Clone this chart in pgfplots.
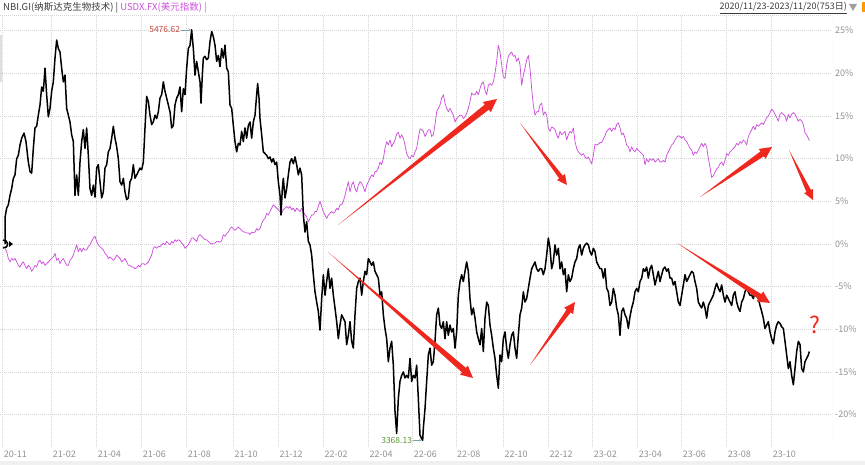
\documentclass[border=0pt]{standalone}
\usepackage{pgfplots}
\pgfplotsset{compat=1.18}
\usepackage{fontspec}
\setmainfont{Noto Sans CJK SC}
\usetikzlibrary{calc,arrows.meta}

\definecolor{usdx}{RGB}{205,80,220}
\definecolor{gridc}{RGB}{212,212,212}
\definecolor{tickc}{RGB}{145,145,145}
\definecolor{titlec}{RGB}{60,60,60}
\definecolor{arrowred}{RGB}{238,40,30}
\definecolor{peakred}{RGB}{200,70,60}
\definecolor{lowgreen}{RGB}{90,150,60}
\definecolor{pointer}{RGB}{120,165,175}

% tapered red arrow: x1 y1 x2 y2 (px from top-left), body half width, head half width
\newcommand{\tarrow}[6]{%
  \pgfmathsetmacro{\dx}{#3-#1}%
  \pgfmathsetmacro{\dy}{#2-#4}%
  \pgfmathsetmacro{\ang}{atan2(\dy,\dx)}%
  \pgfmathsetmacro{\len}{veclen(\dx,\dy)}%
  \pgfmathsetmacro{\hl}{2*#6}%
  \fill[arrowred, shift={({#1pt},{465pt-#2pt})}, rotate=\ang]
    (0,0) -- ({(\len-\hl)*1pt},{-#5*1pt}) -- ({(\len-\hl)*1pt},{-#6*1pt})
    -- ({\len*1pt},0) -- ({(\len-\hl)*1pt},{#6*1pt}) -- ({(\len-\hl)*1pt},{#5*1pt}) -- cycle;
}

\begin{document}
\begin{tikzpicture}
\path[use as bounding box] (0,0) rectangle (865pt,465pt);
\fill[gray!12] (0,0) rectangle (865pt,4pt);
\fill[gray!25] (0,383pt) rectangle (1.5pt,430pt);

\begin{axis}[
    at={(0pt,18pt)}, anchor=south west,
    scale only axis, width=832pt, height=432pt,
    xmin=0, xmax=2496, ymin=-23.79, ymax=26.84,
    axis line style={draw=none},
    tick style={draw=none},
    grid=major,
    grid style={gridc, dash pattern=on 1pt off 1pt, line width=0.5pt},
    xtick={8,155,290,425,560,700,835,970,1105,1238,1368,1510,1645,1778,1913,2045,2180,2315},
    xticklabels={20-11,21-02,21-04,21-06,21-08,21-10,21-12,22-02,22-04,22-06,22-08,22-10,22-12,23-02,23-04,23-06,23-08,23-10},
    xticklabel style={anchor=west, yshift=-7pt, inner sep=1pt, text=tickc, font=\fontsize{9}{10}\selectfont},
    ytick={-20,-15,-10,-5,0,5,10,15,20,25},
    yticklabels={-20\%,-15\%,-10\%,-5\%,0\%,5\%,10\%,15\%,20\%,25\%},
    yticklabel pos=right,
    yticklabel style={anchor=west, xshift=3pt, inner sep=0pt, text=tickc, font=\fontsize{9}{10}\selectfont},
    no marks,
]
\draw[gridc, dash pattern=on 1pt off 1pt, line width=0.5pt] (rel axis cs:0,1) -- (rel axis cs:1,1) -- (rel axis cs:1,0);
\draw[gray!18, line width=0.6pt] (rel axis cs:0,0) -- (rel axis cs:1,0);

% USDX.FX relative change (%)
\addplot[usdx, line width=0.75pt, line join=round] coordinates {
(15,-0.5) (20,-0.9) (25,-1.7) (30,-2.1) (35,-1.7) (40,-1.9) (45,-1.7) (50,-2.1) (55,-2.5) (60,-2.7)
(65,-2.3) (70,-2.1) (75,-2.5) (80,-2.9) (85,-2.5) (90,-2.7) (95,-3.2) (100,-2.9) (105,-2.5) (110,-2.7)
(115,-2.1) (120,-1.9) (125,-2.3) (130,-2.1) (135,-2.5) (140,-2.3) (145,-2.1) (150,-1.9) (155,-1.7) (160,-1.5)
(165,-1.1) (170,-1.9) (175,-1.7) (180,-2.3) (185,-1.9) (190,-1.7) (195,-2.1) (200,-2.5) (205,-2.5) (210,-1.9)
(215,-1.7) (220,-1.3) (225,-0.7) (230,-0.1) (235,-0.9) (240,-0.5) (245,-0.9) (250,-0.5) (255,-0.7) (260,-0.7)
(265,-0.3) (270,-0.1) (275,0.3) (280,0.7) (285,0.9) (290,0.3) (295,-0.1) (300,-0.3) (305,-0.5) (310,-0.7)
(315,-1.1) (320,-1.3) (325,-1.7) (330,-1.5) (335,-1.7) (340,-1.9) (345,-1.7) (350,-1.3) (355,-1.5) (360,-1.7)
(365,-2.1) (370,-1.9) (375,-1.7) (380,-2.1) (385,-2.5) (390,-2.5) (395,-2.7) (400,-2.7) (405,-2.9) (410,-2.8)
(415,-2.5) (420,-2.7) (425,-2.3) (430,-2.3) (435,-2.4) (440,-2.3) (445,-2.1) (450,-1.7) (455,-1.3) (460,-0.5)
(465,-0.3) (470,-0.5) (475,-0.3) (480,-0.3) (485,-0.1) (490,0.1) (495,-0.1) (500,0.3) (505,0.1) (510,-0.1)
(515,0.3) (520,0.1) (525,0.5) (530,0.3) (535,0.5) (540,0.4) (545,0.1) (550,-0.1) (555,-0.5) (560,-0.3)
(565,-0.1) (570,0.3) (575,0.7) (580,0.7) (585,0.5) (590,0.3) (595,0.9) (600,1.1) (605,0.9) (610,0.7)
(615,0.5) (620,0.5) (625,0.3) (630,0.1) (635,0.0) (640,0.1) (645,0.1) (650,0.3) (655,0.3) (660,0.2)
(665,0.4) (670,1.1) (675,0.9) (680,1.2) (685,1.4) (690,1.8) (695,2.0) (700,1.8) (705,1.6) (710,1.8)
(715,2.0) (720,1.8) (725,1.6) (730,1.4) (735,1.4) (740,1.3) (745,1.3) (750,1.1) (755,1.4) (760,1.3)
(765,1.4) (770,1.8) (775,1.6) (780,1.8) (785,2.4) (790,2.8) (795,3.0) (800,3.6) (805,3.4) (810,3.8)
(815,4.2) (820,4.6) (825,4.4) (830,4.2) (835,4.0) (840,3.8) (845,3.6) (850,4.0) (855,4.2) (860,4.4)
(865,4.2) (870,4.4) (875,4.0) (880,4.2) (885,3.8) (890,4.2) (895,4.0) (900,3.8) (905,4.2) (910,3.8)
(915,3.4) (920,3.2) (925,2.6) (930,3.0) (935,3.4) (940,3.4) (945,3.8) (950,3.8) (955,4.4) (960,5.0)
(965,4.4) (970,3.8) (975,3.4) (980,3.0) (985,3.4) (990,3.6) (995,3.8) (1000,3.6) (1005,3.8) (1010,4.2)
(1015,4.0) (1020,4.6) (1025,4.6) (1030,5.0) (1035,5.7) (1040,6.5) (1045,7.3) (1050,6.1) (1055,6.9) (1060,7.3)
(1065,6.5) (1070,6.1) (1075,6.9) (1080,7.3) (1085,7.1) (1090,6.7) (1095,6.1) (1100,6.9) (1105,7.3) (1110,7.7)
(1115,8.1) (1120,7.9) (1125,8.5) (1130,8.5) (1135,8.9) (1140,9.6) (1145,9.3) (1150,10.0) (1155,11.2) (1160,12.0)
(1165,11.6) (1170,12.2) (1175,11.4) (1180,11.8) (1185,12.2) (1190,12.9) (1195,13.1) (1200,12.4) (1205,12.8) (1210,12.4)
(1215,11.6) (1220,10.6) (1225,10.2) (1230,10.0) (1235,10.4) (1240,10.2) (1245,10.8) (1250,11.2) (1255,12.4) (1260,13.5)
(1265,13.4) (1270,13.2) (1275,12.6) (1280,13.0) (1285,13.4) (1290,13.4) (1295,12.6) (1300,12.8) (1305,14.0) (1310,15.5)
(1315,15.9) (1320,16.3) (1325,17.1) (1330,17.5) (1335,16.5) (1340,15.9) (1345,15.5) (1350,15.9) (1355,15.5) (1360,15.1)
(1365,14.3) (1370,14.7) (1375,14.9) (1380,15.1) (1385,15.1) (1390,14.7) (1395,14.9) (1400,15.3) (1405,15.9) (1410,16.7)
(1415,17.7) (1420,17.5) (1425,17.5) (1430,17.9) (1435,17.5) (1440,18.2) (1445,18.8) (1450,19.0) (1455,18.0) (1460,17.5)
(1465,18.6) (1470,18.8) (1475,18.6) (1480,19.0) (1485,20.0) (1490,21.4) (1495,23.3) (1500,22.5) (1505,21.0) (1510,19.6)
(1515,19.4) (1520,21.0) (1525,22.0) (1530,22.3) (1535,22.5) (1540,22.0) (1545,22.1) (1550,21.4) (1555,21.8) (1560,21.0)
(1565,18.6) (1570,19.8) (1575,20.6) (1580,21.6) (1585,22.1) (1590,20.6) (1595,18.2) (1600,16.3) (1605,15.1) (1610,15.5)
(1615,15.5) (1620,16.3) (1625,16.5) (1630,15.1) (1635,15.5) (1640,15.1) (1645,13.6) (1650,13.2) (1655,13.7) (1660,13.6)
(1665,13.4) (1670,12.8) (1675,12.4) (1680,13.2) (1685,12.8) (1690,13.0) (1695,13.2) (1700,12.2) (1705,12.8) (1710,13.2)
(1715,13.0) (1720,13.6) (1725,12.0) (1730,11.2) (1735,10.8) (1740,10.6) (1745,10.4) (1750,10.6) (1755,10.2) (1760,10.0)
(1765,10.2) (1770,9.8) (1775,9.4) (1780,10.4) (1785,11.7) (1790,11.6) (1795,11.7) (1800,11.9) (1805,11.9) (1810,12.3)
(1815,12.7) (1820,13.2) (1825,13.4) (1830,13.6) (1835,13.2) (1840,13.6) (1845,13.4) (1850,14.0) (1855,14.2) (1860,13.6)
(1865,12.8) (1870,13.0) (1875,12.4) (1880,11.6) (1885,11.4) (1890,10.8) (1895,11.4) (1900,11.0) (1905,10.8) (1910,11.2)
(1915,11.0) (1920,10.8) (1925,10.6) (1930,10.4) (1935,9.3) (1940,10.0) (1945,9.6) (1950,10.0) (1955,9.8) (1960,10.0)
(1965,9.6) (1970,9.8) (1975,10.0) (1980,9.6) (1985,9.6) (1990,9.8) (1995,9.6) (2000,10.4) (2005,10.8) (2010,11.2)
(2015,11.6) (2020,11.8) (2025,12.2) (2030,12.5) (2035,12.7) (2040,12.6) (2045,12.4) (2050,12.6) (2055,12.2) (2060,12.0)
(2065,11.6) (2070,11.2) (2075,11.0) (2080,10.4) (2085,10.8) (2090,10.6) (2095,11.0) (2100,11.4) (2105,11.8) (2110,11.4)
(2115,11.8) (2120,11.4) (2125,10.0) (2130,9.0) (2135,7.8) (2140,8.0) (2145,8.4) (2150,8.8) (2155,9.0) (2160,9.4)
(2165,9.6) (2170,9.2) (2175,9.8) (2180,10.6) (2185,10.4) (2190,10.8) (2195,11.0) (2200,11.2) (2205,11.4) (2210,11.8)
(2215,11.6) (2220,12.0) (2225,11.8) (2230,12.2) (2235,12.0) (2240,11.6) (2245,12.6) (2250,13.0) (2255,13.4) (2260,13.8)
(2265,13.4) (2270,14.0) (2275,13.8) (2280,14.0) (2285,14.2) (2290,14.0) (2295,14.4) (2300,14.8) (2305,15.0) (2310,15.4)
(2315,15.8) (2320,15.6) (2325,15.2) (2330,14.8) (2335,14.4) (2340,15.2) (2345,15.4) (2350,15.2) (2355,15.0) (2360,14.4)
(2365,15.2) (2370,14.8) (2375,15.2) (2380,15.4) (2385,15.2) (2390,14.8) (2395,14.4) (2400,14.6) (2405,14.4) (2410,14.0)
(2415,13.0) (2420,12.8) (2425,12.4) (2428,12.1)
};

% NBI.GI relative change (%)
\addplot[black, line width=1.5pt, line join=round] coordinates {
(15,0) (15,3.1) (20,4.2) (25,4.6) (30,5.7) (35,6.5) (40,7.7) (45,8.1) (50,10.0) (55,10.4)
(60,11.6) (65,12.4) (72,13.0) (78,12.0) (85,9.6) (90,8.5) (95,8.3) (100,11.2) (105,13.6) (110,13.8)
(115,15.1) (120,16.3) (125,18.4) (130,17.9) (135,20.6) (140,17.5) (145,14.9) (150,15.9) (155,17.9) (160,19.0)
(165,21.8) (170,23.9) (175,22.9) (180,22.5) (185,20.6) (190,19.0) (195,19.8) (200,15.9) (205,15.1) (210,14.3)
(215,12.8) (220,12.0) (225,5.7) (230,8.1) (235,5.7) (240,9.6) (245,12.0) (250,13.4) (255,11.2) (260,13.6)
(265,10.4) (270,6.5) (275,5.7) (280,6.9) (285,5.5) (290,8.9) (295,9.3) (300,7.3) (305,5.4) (310,6.1)
(315,8.9) (320,9.3) (325,10.8) (330,11.2) (335,12.4) (340,13.8) (345,12.4) (350,11.4) (355,10.0) (360,7.3)
(365,6.9) (370,7.7) (375,6.1) (380,5.2) (385,5.4) (390,7.3) (395,7.7) (400,9.3) (405,7.7) (410,8.1)
(415,8.5) (420,8.9) (425,8.7) (430,9.6) (435,13.6) (440,17.3) (445,16.7) (450,15.1) (455,14.0) (460,14.3)
(465,15.1) (470,14.7) (475,15.5) (480,17.1) (485,17.5) (490,19.0) (495,17.9) (500,17.1) (505,16.3) (510,15.5)
(515,13.6) (520,13.9) (525,16.3) (530,17.1) (535,17.5) (540,18.4) (545,15.5) (550,18.2) (555,17.5) (560,20.6)
(565,22.9) (570,23.3) (575,25.1) (580,22.9) (585,19.8) (590,21.4) (595,20.2) (600,19.0) (603,16.5) (607,19.8)
(610,21.8) (615,22.0) (620,21.6) (625,21.8) (630,23.7) (635,24.9) (640,24.3) (645,23.3) (650,21.4) (655,22.1)
(660,20.8) (665,22.9) (670,21.8) (675,23.3) (680,20.6) (685,20.2) (690,16.3) (695,15.9) (700,13.9) (705,12.0)
(710,10.8) (715,11.8) (720,11.6) (725,13.2) (730,12.0) (735,13.6) (740,12.4) (745,13.9) (750,14.3) (755,12.4)
(760,14.3) (765,15.1) (770,17.5) (773,18.8) (777,17.1) (780,14.7) (785,12.8) (790,10.8) (795,10.6) (800,10.4)
(805,10.0) (810,10.2) (815,9.6) (820,10.0) (825,9.3) (830,9.6) (835,7.3) (840,5.7) (843,3.4) (847,6.5)
(850,7.7) (855,5.4) (860,6.5) (865,8.1) (870,9.6) (875,10.0) (880,9.4) (885,10.2) (890,9.3) (895,8.1)
(900,8.9) (905,8.1) (910,3.4) (915,1.4) (920,2.6) (925,0.3) (930,-0.1) (935,-1.3) (940,-3.6) (945,-5.6)
(950,-6.8) (955,-7.9) (960,-10.1) (965,-6.4) (970,-3.6) (975,-6.0) (980,-4.4) (985,-2.9) (990,-5.2) (995,-4.0)
(1000,-6.0) (1005,-7.5) (1010,-9.1) (1015,-11.1) (1020,-9.5) (1025,-8.3) (1030,-8.7) (1035,-9.1) (1040,-11.8) (1045,-10.7)
(1050,-9.1) (1055,-11.4) (1060,-12.2) (1065,-8.3) (1070,-5.2) (1075,-4.4) (1080,-4.0) (1085,-6.0) (1090,-4.4) (1095,-3.2)
(1100,-3.6) (1105,-1.7) (1110,-2.1) (1115,-2.5) (1120,-2.1) (1125,-3.2) (1130,-3.6) (1135,-4.0) (1140,-6.0) (1145,-5.6)
(1150,-8.3) (1155,-9.9) (1160,-11.1) (1165,-13.8) (1170,-12.2) (1175,-11.4) (1180,-14.2) (1185,-19.6) (1190,-22.2) (1195,-18.1)
(1200,-16.1) (1205,-15.4) (1210,-15.0) (1215,-15.7) (1220,-15.4) (1225,-15.7) (1230,-13.4) (1235,-16.1) (1240,-15.4) (1245,-15.7)
(1250,-14.2) (1255,-18.1) (1260,-22.4) (1265,-22.8) (1268,-23.0) (1270,-21.6) (1275,-19.3) (1280,-16.1) (1285,-13.0) (1290,-12.2)
(1295,-14.2) (1300,-13.8) (1305,-11.4) (1310,-8.3) (1315,-7.5) (1320,-9.5) (1325,-9.9) (1330,-9.1) (1335,-11.1) (1340,-9.1)
(1345,-10.7) (1350,-9.5) (1355,-10.3) (1360,-9.9) (1365,-12.2) (1370,-10.3) (1375,-6.0) (1380,-4.4) (1385,-3.6) (1390,-4.4)
(1395,-3.2) (1400,-2.1) (1405,-3.2) (1410,-6.4) (1415,-8.3) (1420,-7.5) (1425,-8.7) (1430,-10.3) (1435,-11.1) (1440,-11.8)
(1445,-9.9) (1450,-12.6) (1455,-8.7) (1460,-6.8) (1465,-7.2) (1470,-9.5) (1475,-10.7) (1480,-12.2) (1485,-13.4) (1490,-15.4)
(1495,-16.9) (1500,-13.0) (1505,-13.8) (1510,-11.1) (1515,-10.3) (1520,-12.2) (1525,-13.4) (1530,-11.8) (1535,-10.7) (1540,-10.3)
(1545,-12.2) (1550,-13.4) (1555,-10.7) (1560,-8.3) (1565,-7.5) (1570,-5.6) (1575,-6.8) (1580,-6.4) (1585,-5.2) (1590,-4.0)
(1595,-2.9) (1600,-2.5) (1605,-2.1) (1610,-2.9) (1615,-3.2) (1620,-2.9) (1625,-2.9) (1630,-3.6) (1635,-2.9) (1640,-1.3)
(1645,0.7) (1650,-0.5) (1655,-2.9) (1660,-2.1) (1665,-0.1) (1670,-1.3) (1675,-0.5) (1680,-2.9) (1685,-2.1) (1690,-3.6)
(1695,-2.9) (1700,-5.6) (1705,-3.6) (1710,-4.4) (1715,-4.0) (1720,-2.9) (1725,-2.1) (1730,-1.7) (1735,-0.5) (1740,-0.1)
(1745,-1.3) (1750,-0.5) (1755,-0.1) (1760,0.1) (1765,-0.1) (1770,-0.9) (1775,-1.3) (1780,-0.5) (1785,-0.9) (1790,-2.1)
(1795,-2.5) (1800,-2.9) (1805,-2.9) (1810,-4.0) (1815,-2.9) (1820,-5.2) (1825,-5.6) (1830,-7.2) (1835,-6.8) (1840,-5.2)
(1845,-6.0) (1850,-7.5) (1855,-8.3) (1860,-10.7) (1865,-7.9) (1870,-7.5) (1875,-8.3) (1880,-8.7) (1885,-9.9) (1890,-8.5)
(1895,-7.5) (1900,-6.8) (1905,-5.6) (1910,-5.2) (1915,-5.6) (1920,-4.4) (1925,-4.0) (1930,-2.9) (1935,-3.2) (1940,-2.7)
(1945,-4.0) (1950,-2.9) (1955,-2.5) (1960,-3.6) (1965,-4.8) (1970,-4.0) (1975,-3.2) (1980,-4.4) (1985,-3.6) (1990,-2.9)
(1995,-2.7) (2000,-3.2) (2005,-2.9) (2010,-4.0) (2015,-4.0) (2020,-4.8) (2025,-4.4) (2030,-5.6) (2035,-6.8) (2040,-7.2)
(2045,-6.0) (2050,-4.8) (2055,-3.6) (2060,-4.4) (2065,-4.0) (2070,-3.6) (2075,-3.2) (2080,-3.4) (2085,-4.4) (2090,-5.2)
(2095,-6.8) (2100,-7.2) (2105,-7.5) (2110,-6.8) (2115,-7.5) (2120,-8.7) (2125,-7.2) (2130,-6.8) (2135,-6.4) (2140,-6.0)
(2145,-5.2) (2150,-4.6) (2155,-5.2) (2160,-5.6) (2165,-4.8) (2170,-6.0) (2175,-6.8) (2180,-6.0) (2185,-6.4) (2190,-6.8)
(2195,-7.2) (2200,-6.0) (2205,-5.6) (2210,-6.8) (2215,-7.5) (2220,-7.9) (2225,-6.8) (2230,-6.4) (2235,-5.6) (2240,-5.2)
(2245,-5.6) (2250,-6.0) (2255,-6.0) (2260,-6.4) (2265,-5.6) (2270,-6.0) (2275,-6.4) (2280,-7.2) (2285,-7.9) (2290,-8.7)
(2295,-9.9) (2300,-9.5) (2305,-9.1) (2310,-10.3) (2315,-11.1) (2320,-11.7) (2325,-10.3) (2330,-9.5) (2335,-9.1) (2340,-9.3)
(2345,-9.7) (2350,-9.9) (2355,-11.4) (2360,-13.0) (2365,-14.6) (2370,-13.8) (2375,-15.4) (2380,-16.5) (2385,-14.6) (2390,-12.6)
(2395,-11.4) (2400,-11.8) (2405,-14.6) (2410,-15.0) (2415,-13.8) (2420,-13.4) (2425,-13.0) (2428,-12.6)
};

\coordinate (pk) at (axis cs:575,25.1);
\coordinate (mn) at (axis cs:1268,-23.0);
\coordinate (st) at (axis cs:15,0);
\end{axis}

% start marker
\draw[black, line width=1.6pt] ($(st)+(-2pt,3.8pt)$) arc[start angle=100, end angle=-100, radius=3.9pt];
\fill[black] ($(st)+(4pt,3pt)$) -- ($(st)+(4pt,-3pt)$) -- ($(st)+(8pt,0)$) -- cycle;

% max / min labels
\draw[pointer, line width=0.5pt, -{Stealth[length=2.5pt,width=2.5pt]}] ($(pk)+(-11pt,0)$) -- ($(pk)+(-1pt,0)$);
\node[anchor=east, inner sep=0pt, text=peakred, font=\fontsize{8.5}{9}\selectfont] at ($(pk)+(-11.5pt,0)$) {5476.62};
\draw[pointer, line width=0.5pt, -{Stealth[length=2.5pt,width=2.5pt]}] ($(mn)+(-10pt,0)$) -- ($(mn)+(-1pt,0)$);
\node[anchor=east, inner sep=0pt, text=lowgreen, font=\fontsize{8.5}{9}\selectfont] at ($(mn)+(-10.5pt,0)$) {3368.13};

% red trend arrows
\tarrow{338}{225}{497}{99}{3.3}{6.5}
\tarrow{520}{123}{567}{185}{2.3}{5}
\tarrow{328}{252}{473}{378}{3}{6}
\tarrow{530}{365}{575}{302}{2.5}{5.5}
\tarrow{700}{197}{772}{147}{3}{6}
\tarrow{789}{150}{813}{200}{2.5}{5}
\tarrow{677}{243}{770}{303}{2.8}{6}
\node[text=arrowred, font=\fontsize{23}{23}\selectfont, inner sep=0pt] at (815pt,140pt) {?};

% header
\node[anchor=west, inner sep=0pt, font=\fontsize{9.5}{10}\selectfont] at (3pt,457pt)
  {\textcolor{titlec}{NBI.GI(纳斯达克生物技术) | }\textcolor{usdx}{USDX.FX(美元指数) |}};
\node[anchor=east, inner sep=0pt, text=titlec, font=\fontsize{9}{10}\selectfont] at (847pt,457pt)
  {\underline{2020/11/23-2023/11/20(753日)}};
\fill[gray!75] (849pt,461pt) -- (857pt,461pt) -- (853pt,454pt) -- cycle;
\fill[orange!80!yellow] (861.5pt,453pt) rectangle (865pt,463pt);
\end{tikzpicture}
\end{document}
